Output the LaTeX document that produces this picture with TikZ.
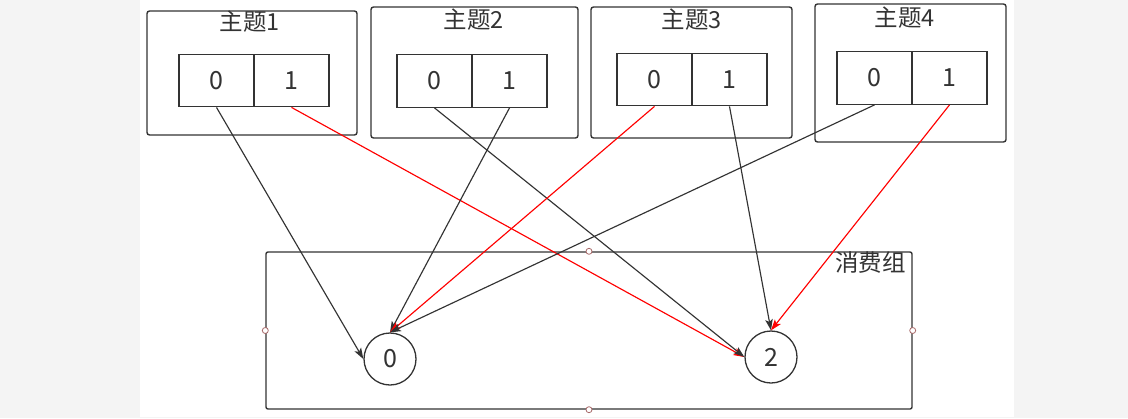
\documentclass[tikz,border=0pt]{standalone}
\usepackage{fontspec}
\setmainfont{Noto Sans CJK SC}
\usetikzlibrary{arrows.meta}
\definecolor{ink}{HTML}{333333}
\definecolor{bggray}{HTML}{F4F4F4}
\definecolor{handle}{HTML}{A86A6A}
\begin{document}
\begin{tikzpicture}[x=1pt,y=-1pt,
  topicbox/.style={draw=ink,line width=1.4pt,rounded corners=2.5pt,inner sep=0pt},
  cell/.style={draw=ink,line width=1.3pt,minimum width=75pt,minimum height=52.5pt,inner sep=0pt,font=\fontsize{25}{27}\selectfont,text=ink},
  ttl/.style={font=\fontsize{23.5}{25}\selectfont,text=ink,inner sep=0pt},
  member/.style={circle,draw=ink,line width=1.3pt,minimum size=52pt,inner sep=0pt,font=\fontsize{25}{27}\selectfont,text=ink},
  grp/.style={draw=ink,line width=1.4pt,rounded corners=2pt,inner sep=0pt},
  hdl/.style={circle,draw=handle,fill=white,line width=0.8pt,minimum size=6pt,inner sep=0pt},
  blk/.style={draw=ink,line width=1.15pt,-{Stealth[length=11pt,width=7.5pt,inset=2.5pt]}},
  rd/.style={draw=red,line width=1.15pt,-{Stealth[length=11pt,width=7.5pt,inset=2.5pt]}}
]
\useasboundingbox (0,0) rectangle (1128,418);
\fill[bggray] (0,0) rectangle (1128,418);
\fill[white] (140,0) rectangle (1014,416.5);

% topic boxes
\node[topicbox,minimum width=210pt,minimum height=124pt] (T1) at (252,73) {};
\node[topicbox,minimum width=207pt,minimum height=131pt] (T2) at (474.5,72.5) {};
\node[topicbox,minimum width=201pt,minimum height=131pt] (T3) at (691.5,72.5) {};
\node[topicbox,minimum width=191pt,minimum height=138pt] (T4) at (910.5,73) {};

\node[ttl] (L1) at (250,22) {主题1};
\node[ttl] (L2) at (474,20) {主题2};
\node[ttl] (L3) at (692,20) {主题3};
\node[ttl] (L4) at (905,17.5) {主题4};

% partition cells
\node[cell] (t1a) at (216.5,80.5) {0};
\node[cell] (t1b) at (291.5,80.5) {1};
\node[cell] (t2a) at (434.5,81) {0};
\node[cell] (t2b) at (509.5,81) {1};
\node[cell] (t3a) at (654.5,79.5) {0};
\node[cell] (t3b) at (729.5,79.5) {1};
\node[cell] (t4a) at (874.5,78) {0};
\node[cell] (t4b) at (949.5,78) {1};

% consumer group
\node[grp,minimum width=646pt,minimum height=157pt] (cg) at (589,330.5) {};
\node[ttl,anchor=north east] (cgl) at (906,252) {消费组};
\node[member] (c0) at (390,359) {0};
\node[member] (c2) at (771,357) {2};

% connectors
\draw[blk] (t1a.south) -- (c0.west);
\draw[rd]  (t1b.south) -- (c2.west);
\draw[blk] (t2a.south) -- (c2.west);
\draw[blk] (t2b.south) -- (c0.north);
\draw[rd]  (t3a.south) -- (c0.north);
\draw[blk] (t3b.south) -- (c2.north);
\draw[blk] (t4a.south) -- (c0.north);
\draw[rd]  (t4b.south) -- (c2.north);

% handles
\node[hdl] (h1) at (cg.north) {};
\node[hdl] (h2) at (cg.west) {};
\node[hdl] (h3) at (cg.east) {};
\node[hdl] (h4) at (cg.south) {};
\end{tikzpicture}
\end{document}
